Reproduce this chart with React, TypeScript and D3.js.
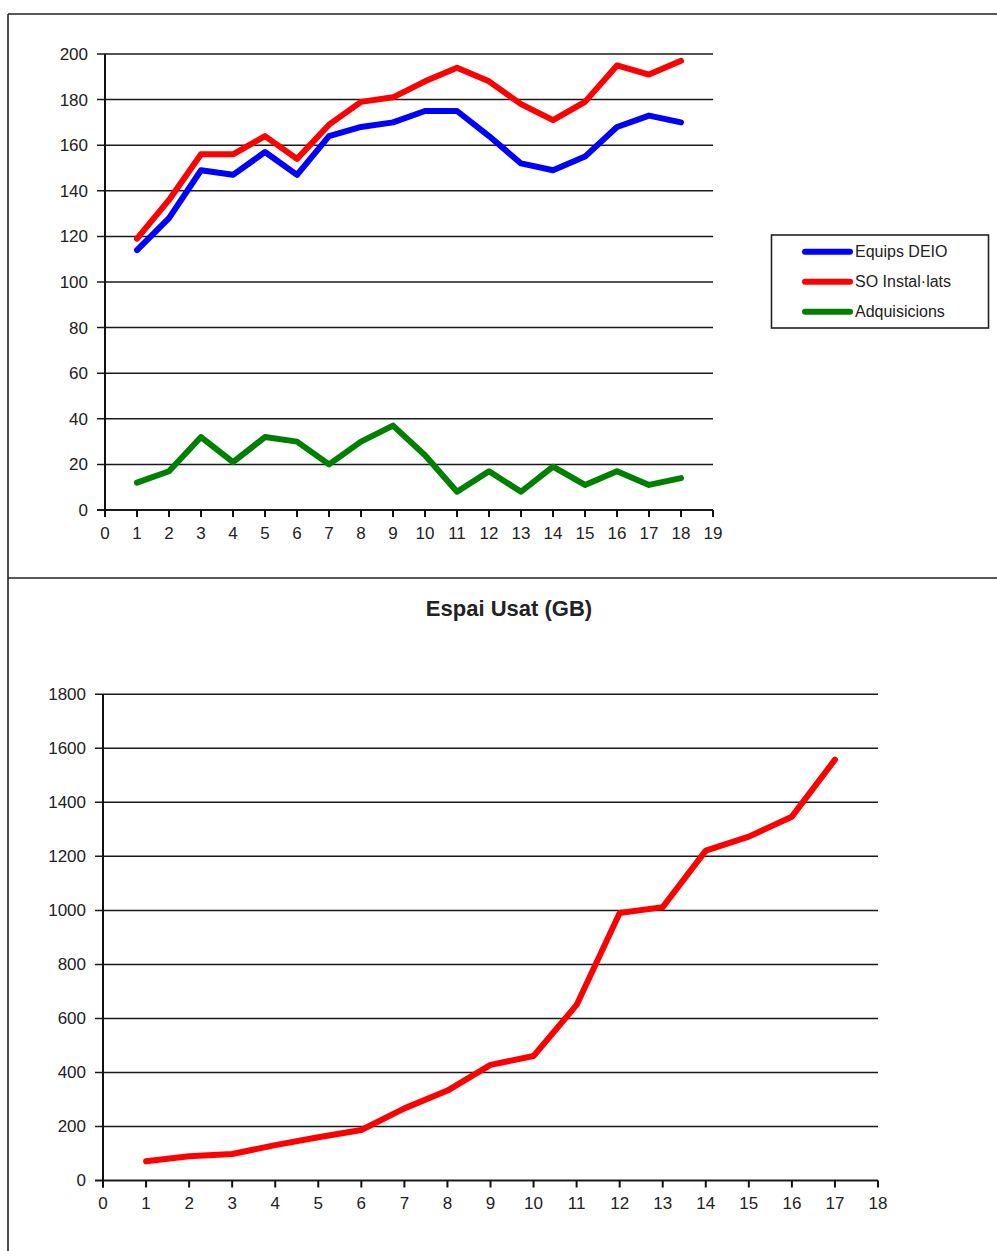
import React from "react";
import * as d3 from "d3";

const topX = d3.range(1, 19);
const equipsDEIO = [114, 128, 149, 147, 157, 147, 164, 168, 170, 175, 175, 164, 152, 149, 155, 168, 173, 170];
const soInstallats = [119, 136, 156, 156, 164, 154, 169, 179, 181, 188, 194, 188, 178, 171, 179, 195, 191, 197];
const adquisicions = [12, 17, 32, 21, 32, 30, 20, 30, 37, 24, 8, 17, 8, 19, 11, 17, 11, 14];
const topYTicks = [0, 20, 40, 60, 80, 100, 120, 140, 160, 180, 200];
const topXTicks = d3.range(0, 20);

const botX = d3.range(1, 18);
const espaiUsat = [71, 90, 98, 131, 160, 187, 267, 333, 428, 461, 650, 990, 1012, 1221, 1273, 1347, 1558];
const botYTicks = [0, 200, 400, 600, 800, 1000, 1200, 1400, 1600, 1800];
const botXTicks = d3.range(0, 19);

const seriesTop = [
  { name: "Equips DEIO", values: equipsDEIO, color: "#0000ff" },
  { name: "SO Instal·lats", values: soInstallats, color: "#ff0000" },
  { name: "Adquisicions", values: adquisicions, color: "#008000" },
];

const FONT = "'Liberation Sans', Arial, sans-serif";

export default function App() {
  const xT = d3.scaleLinear().domain([0, 19]).range([105, 713]);
  const yT = d3.scaleLinear().domain([0, 200]).range([510, 54]);
  const xB = d3.scaleLinear().domain([0, 18]).range([103, 878]);
  const yB = d3.scaleLinear().domain([0, 1800]).range([1180.5, 694.3]);

  const lineT = (vals: number[]) =>
    d3.line<number>().x((_, i) => xT(topX[i])).y((d) => yT(d))(vals) || "";
  const lineB =
    d3.line<number>().x((_, i) => xB(botX[i])).y((d) => yB(d))(espaiUsat) || "";

  return (
    <div style={{ position: "absolute", left: 0, top: 0 }}>
      <svg width={997} height={1251} style={{ display: "block", background: "#fff" }} fontFamily={FONT}>
        {/* outer frame */}
        <line x1={8} y1={14} x2={997} y2={14} stroke="#222" strokeWidth={1.6} />
        <line x1={8} y1={14} x2={8} y2={1251} stroke="#222" strokeWidth={1.6} />
        <line x1={8} y1={578} x2={997} y2={578} stroke="#222" strokeWidth={1.6} />

        {/* top chart gridlines */}
        {topYTicks.map((t) => (
          <g key={"tg" + t}>
            <line x1={97} x2={xT(19)} y1={yT(t)} y2={yT(t)} stroke="#1a1a1a" strokeWidth={t === 0 ? 2 : 1.5} />
            <text x={88} y={yT(t)} dy="0.35em" textAnchor="end" fontSize={17} fill="#222">{t}</text>
          </g>
        ))}
        <line x1={xT(0)} x2={xT(0)} y1={yT(200)} y2={yT(0) + 7} stroke="#111" strokeWidth={2} />
        {topXTicks.map((t) => (
          <g key={"tx" + t}>
            <line x1={xT(t)} x2={xT(t)} y1={yT(0)} y2={yT(0) + 7} stroke="#111" strokeWidth={2} />
            <text x={xT(t)} y={539} textAnchor="middle" fontSize={17} fill="#222">{t}</text>
          </g>
        ))}
        {seriesTop.map((s) => (
          <path key={s.name} d={lineT(s.values)} fill="none" stroke={s.color} strokeWidth={6} strokeLinejoin="round" strokeLinecap="round" />
        ))}

        {/* legend */}
        <rect x={771.5} y={235} width={217} height={93} fill="#fff" stroke="#222" strokeWidth={1.6} />
        {seriesTop.map((s, i) => (
          <g key={"lg" + s.name} transform={`translate(0, ${251.7 + i * 30})`}>
            <line x1={805} x2={850} y1={0} y2={0} stroke={s.color} strokeWidth={6} strokeLinecap="round" />
            <text x={855} y={0} dy="0.35em" fontSize={16} fill="#222">{s.name}</text>
          </g>
        ))}

        {/* bottom chart */}
        <text x={509} y={608} dy="0.35em" textAnchor="middle" fontSize={22} fontWeight="bold" fill="#222">Espai Usat (GB)</text>
        {botYTicks.map((t) => (
          <g key={"bg" + t}>
            <line x1={95} x2={xB(18)} y1={yB(t)} y2={yB(t)} stroke="#1a1a1a" strokeWidth={t === 0 ? 2 : 1.5} />
            <text x={86} y={yB(t)} dy="0.35em" textAnchor="end" fontSize={17} fill="#222">{t}</text>
          </g>
        ))}
        <line x1={xB(0)} x2={xB(0)} y1={yB(1800)} y2={yB(0) + 7} stroke="#111" strokeWidth={2} />
        {botXTicks.map((t) => (
          <g key={"bx" + t}>
            <line x1={xB(t)} x2={xB(t)} y1={yB(0)} y2={yB(0) + 7} stroke="#111" strokeWidth={2} />
            <text x={xB(t)} y={1209} textAnchor="middle" fontSize={17} fill="#222">{t}</text>
          </g>
        ))}
        <path d={lineB} fill="none" stroke="#ff0000" strokeWidth={6} strokeLinejoin="round" strokeLinecap="round" />
      </svg>
    </div>
  );
}
